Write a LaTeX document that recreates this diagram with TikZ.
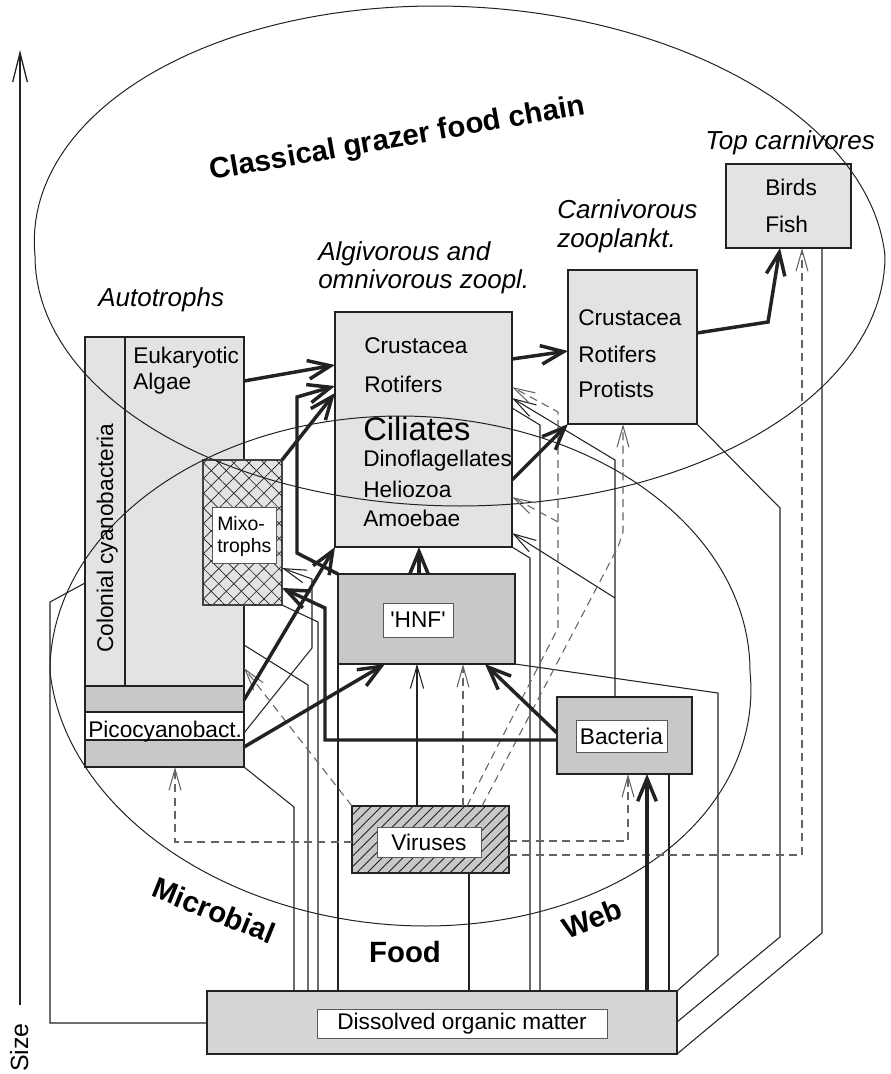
\documentclass[tikz,border=0pt]{standalone}
\usepackage{fontspec}
\setmainfont{Liberation Sans}
\usetikzlibrary{arrows.meta,patterns.meta,fit}
\definecolor{lightg}{HTML}{E2E3E5}
\definecolor{darkg}{HTML}{C7C8CA}
\definecolor{domg}{HTML}{D5D6D8}
\definecolor{ink}{HTML}{222222}
\begin{document}
\begin{tikzpicture}[x=0.75pt,y=-0.75pt,
  box/.style={draw=ink, line width=1.1pt, inner sep=0pt, outer sep=0pt},
  lbl/.style={draw=ink!75, line width=0.7pt, fill=white, inner sep=0pt, outer sep=0pt},
  txt/.style={font=\fontsize{17}{20}\selectfont, inner sep=0pt, anchor=base west},
  ital/.style={font=\fontsize{19.5}{23}\selectfont\itshape, inner sep=0pt, anchor=base west},
  boldlab/.style={font=\fontsize{22}{26}\selectfont\bfseries, inner sep=0pt, anchor=base},
  thk/.style={draw=ink, line width=2.6pt, -{Straight Barb[length=17pt,width=14pt]}},
  thn/.style={draw=ink, line width=0.8pt},
  thnarr/.style={thn, -{Straight Barb[length=17pt,width=10pt]}},
  dsh/.style={draw=ink!70, line width=0.8pt, dash pattern=on 6pt off 4pt},
  dsharr/.style={dsh, -{Straight Barb[length=16pt,width=9pt]}},
]
\useasboundingbox (0,0) rectangle (891,1074);

% ---------- boxes ----------
\node[box, fill=lightg, fit={(726,164)(851,248)}] (birds) {};
\node[box, fill=lightg, fit={(568,270)(697,424)}] (carn) {};
\node[box, fill=lightg, fit={(335,312)(512,547)}] (algiv) {};
\node[box, fill=lightg, fit={(85,337)(125,686)}] (colon) {};
\node[box, fill=lightg, fit={(125,337)(244,686)}] (euk) {};
\node[box, fill=darkg, fit={(85,686)(244,712)}] (band1) {};
\node[box, fill=white, line width=0.7pt, fit={(85,712)(244,740)}] (pico) {};
\node[box, fill=darkg, fit={(85,740)(244,767)}] (band2) {};
\node[box, fit={(85,337)(244,767)}] (auto) {};
\node[box, draw=ink!85, line width=0.8pt, fit={(203,460)(282,605)},
  preaction={fill=lightg}, pattern={Lines[angle=45,distance=8pt,line width=0.5pt]}, pattern color=ink,
  postaction={pattern={Lines[angle=-45,distance=8pt,line width=0.5pt]}, pattern color=ink}] (mixo) {};
\node[lbl, fit={(212,507)(276,563)}] (mixolbl) {};
\node[box, fill=darkg, fit={(338,574)(515,664)}] (hnf) {};
\node[lbl, fit={(383,603)(453,637)}] (hnflbl) {};
\node[box, fill=darkg, fit={(557,697)(692,774)}] (bact) {};
\node[lbl, fit={(576,720)(667,752)}] (bactlbl) {};
\node[box, fit={(352,806)(509,873)}, preaction={fill=darkg},
  pattern={Lines[angle=45,distance=5.5pt,line width=0.7pt]}, pattern color=ink] (vir) {};
\node[lbl, fit={(377,827)(481,857)}] (virlbl) {};
\node[box, fill=domg, fit={(207,991)(677,1054)}] (dom) {};
\node[lbl, fit={(317,1009)(607,1038)}] (domlbl) {};

% ---------- ellipses ----------
\draw[thn, line width=0.75pt] plot[domain=0:360, samples=181, variable=\t]
  ({460+425*cos(\t)+25*min(sin(\t),0)}, {256+250*sin(\t)}) -- cycle;
\draw[thn, line width=0.75pt] plot[domain=0:360, samples=181, variable=\t]
  ({400+350*cos(\t)+25.6*max(sin(\t),0)}, {671+255*sin(\t)}) -- cycle;

% ---------- size axis ----------
\coordinate (axb) at (20,1005);
\coordinate (axt) at (20,50);
\draw[thn, line width=1pt, -{Straight Barb[length=22pt,width=11pt]}] (axb) -- (axt);

% ---------- thin lines to DOM ----------
\draw[thn] (auto.south east) -- (294,807) -- (dom.north -| 294,0);
\draw[thn] (euk.east |- 0,645) -- (308,685) -- (dom.north -| 308,0);
\draw[thn] (mixo.south east) -- (318,622) -- (dom.north -| 318,0);
\draw[thn] (hnf.south west) -- (dom.north -| 338,0);
\draw[thn] (algiv.east |- 0,408) -- (540,425) -- (dom.north -| 540,0);
\draw[thn] (algiv.south east) -- (530,558) -- (dom.north -| 530,0);
\draw[thn] (vir.south -| 469,0) -- (dom.north -| 469,0);
\draw[thn] (bact.south -| 669,0) -- (dom.north -| 669,0);
\draw[thn] (hnf.south east) -- (718,693) -- (718,955) -- (dom.north east);
\draw[thn] (carn.south east) -- (780,508) -- (780,937) -- (dom.east |- 0,1022);
\draw[thn] (birds.south -| 822,0) -- (822,933) -- (dom.south east);
\draw[thn] (colon.west |- 0,583) -- (50,602) -- (50,1023) -- (dom.west |- 0,1023);

% ---------- thin arrows ----------
\draw[thnarr] (vir.north -| 417,0) -- (hnf.south -| 417,0);
\draw[thnarr] (pico.east |- 0,733) -- (312,648) -- (312,579) -- (mixo.east |- 0,568);
\draw[thnarr] (bact.north -| 615,0) -- (615,460) -- (algiv.east |- 0,398);
\coordinate (bbr) at (615,598);
\draw[thnarr] (bbr) -- (algiv.east |- 0,533);

% ---------- dashed arrows (viruses) ----------
\draw[dsharr] (vir.west |- 0,842) -- (175,842) -- (band2.south -| 175,0);
\draw[dsharr] (vir.north west) -- (euk.east |- 0,668);
\draw[dsharr] (vir.north -| 463,0) -- (hnf.south -| 463,0);
\draw[dsharr] (vir.north -| 467,0) -- (558,628) -- (558,412) -- (algiv.east |- 0,387);
\coordinate (vbr) at (558,522);
\draw[dsharr] (vbr) -- (algiv.east |- 0,497);
\draw[dsharr] (vir.north -| 482,0) -- (618,547) -- (623,532) -- (carn.south -| 623,0);
\draw[dsharr] (vir.east |- 0,841) -- (628,841) -- (bact.south -| 628,0);
\draw[dsharr] (vir.east |- 0,855) -- (802,855) -- (birds.south -| 802,0);

% ---------- thick arrows ----------
\draw[thk] (euk.east |- 0,381) -- (algiv.west |- 0,365);
\draw[thk] (mixo.north east) -- (algiv.west |- 0,393);
\draw[thk] (hnf.north west) -- (297,553) -- (297,397) -- (algiv.west |- 0,386);
\draw[thk] (band1.east |- 0,700) -- (algiv.south west);
\draw[thk] (band2.east |- 0,747) -- (hnf.south -| 385,0);
\draw[thk] (bact.west |- 0,733) -- (hnf.south -| 485,0);
\draw[thk] (bact.west |- 0,740) -- (325,740) -- (325,608) -- (mixo.east |- 0,588);
\draw[thk] (hnf.north -| 419,0) -- (algiv.south -| 419,0);
\draw[thk] (algiv.east |- 0,359) -- (carn.west |- 0,351);
\draw[thk] (algiv.east |- 0,480) -- (carn.south west);
\draw[thk] (carn.east |- 0,333) -- (768,322) -- (birds.south -| 780,0);
\draw[thk] (dom.north -| 647,0) -- (bact.south -| 647,0);

% ---------- texts ----------
\node[boldlab, rotate=10] (tclass) at (399,147) {Classical grazer food chain};
\node[boldlab, rotate=-22] (tmicro) at (210,920) {Microbial};
\node[boldlab] (tfood) at (405,962) {Food};
\node[boldlab, rotate=21] (tweb) at (596,928) {Web};

\node[ital] (tauto) at (98,306) {Autotrophs};
\node[ital] (talg1) at (318,260) {Algivorous and};
\node[ital] (talg2) at (318,288) {omnivorous zoopl.};
\node[ital] (tcar1) at (557,218) {Carnivorous};
\node[ital] (tcar2) at (557,247) {zooplankt.};
\node[ital] (ttop) at (705,149) {Top carnivores};

\node[txt] (tbirds) at (765,195) {Birds};
\node[txt] (tfish) at (765,232) {Fish};
\node[txt] (tc1) at (578,325) {Crustacea};
\node[txt] (tc2) at (578,362) {Rotifers};
\node[txt] (tc3) at (578,397) {Protists};
\node[txt] (ta1) at (364,353) {Crustacea};
\node[txt] (ta2) at (364,392) {Rotifers};
\node[txt, font=\fontsize{24.5}{28}\selectfont] (ta3) at (363,440) {Ciliates};
\node[txt] (ta4) at (363,466) {Dinoflagellates};
\node[txt] (ta5) at (363,497) {Heliozoa};
\node[txt] (ta6) at (363,526) {Amoebae};
\node[txt] (te1) at (133,363) {Eukaryotic};
\node[txt] (te2) at (133,389) {Algae};
\node[txt] (tpico) at (88,737) {Picocyanobact.};
\node[txt, rotate=90] (tcol) at (113,653) {Colonial cyanobacteria};
\node[txt, font=\fontsize{14.6}{17}\selectfont] (tmx1) at (217,530) {Mixo-};
\node[txt, font=\fontsize{14.6}{17}\selectfont] (tmx2) at (217,552) {trophs};
\node[font=\fontsize{17}{20}\selectfont, inner sep=0pt] (thnf) at (hnflbl) {\textquotesingle HNF\textquotesingle};
\node[font=\fontsize{17}{20}\selectfont, inner sep=0pt] (tbact) at (bactlbl) {Bacteria};
\node[font=\fontsize{17}{20}\selectfont, inner sep=0pt] (tvir) at (virlbl) {Viruses};
\node[font=\fontsize{17}{20}\selectfont, inner sep=0pt] (tdom) at (domlbl) {Dissolved organic matter};
\node[font=\fontsize{18.7}{22}\selectfont, inner sep=0pt, anchor=base west, rotate=90] (tsize) at (28,1072) {Size};
\end{tikzpicture}
\end{document}
